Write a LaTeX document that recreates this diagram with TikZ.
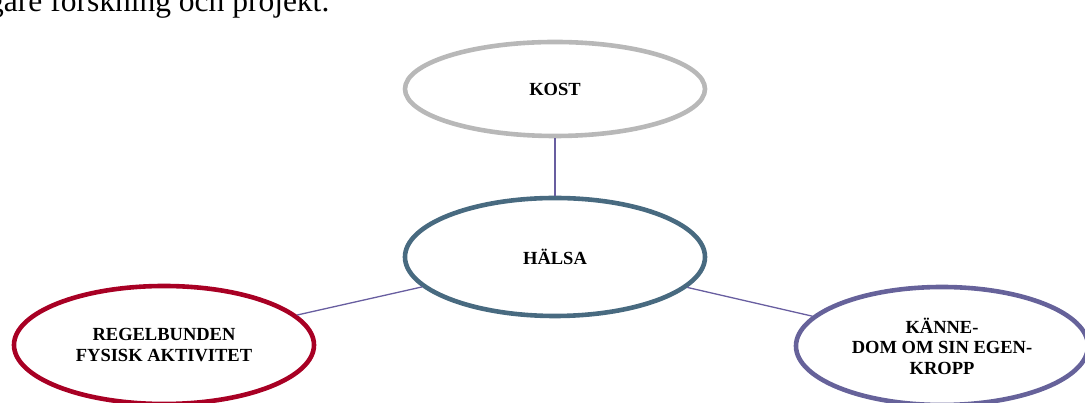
\documentclass[tikz,border=0pt]{standalone}
\usepackage{fontspec}
\setmainfont{Liberation Serif}
\usetikzlibrary{shapes.geometric}
\definecolor{kostgray}{RGB}{184,184,184}
\definecolor{halsablue}{RGB}{72,106,128}
\definecolor{regelred}{RGB}{168,0,36}
\definecolor{kannepurple}{RGB}{102,98,154}
\definecolor{linkpurple}{RGB}{104,94,160}
\begin{document}
\begin{tikzpicture}[
    x=1pt, y=1pt,
    every node/.style={font=\fontsize{18.5}{20.5}\selectfont\bfseries},
    bubble/.style ={draw, ellipse, line width=4.6pt, align=center,
                    inner sep=0pt, minimum width=300pt, minimum height=118pt},
    link/.style   ={line width=1.3pt, linkpurple},
]
\clip (0,0) rectangle (1085,403);
\useasboundingbox (0,0) rectangle (1085,403);
\node[anchor=base west, inner sep=0pt, font=\fontsize{31.5}{34}\selectfont] (intro)
   at (-12,391) {gare forskning och projekt.};
\node[bubble, draw=kostgray, minimum height=94pt] (kost) at (555,314) {KOST};
\node[bubble, draw=halsablue] (halsa) at (555,146) {HÄLSA};
\node[bubble, draw=regelred] (regel) at (164,58)
   {REGELBUNDEN\\FYSISK AKTIVITET};
\node[bubble, draw=kannepurple, minimum width=292pt] (kanne) at (942,57)
   {KÄNNE-\\DOM OM SIN EGEN-\\KROPP};
\draw[link] (kost)  -- (halsa);
\draw[link] (halsa) -- (regel);
\draw[link] (halsa) -- (kanne);
\end{tikzpicture}
\end{document}
